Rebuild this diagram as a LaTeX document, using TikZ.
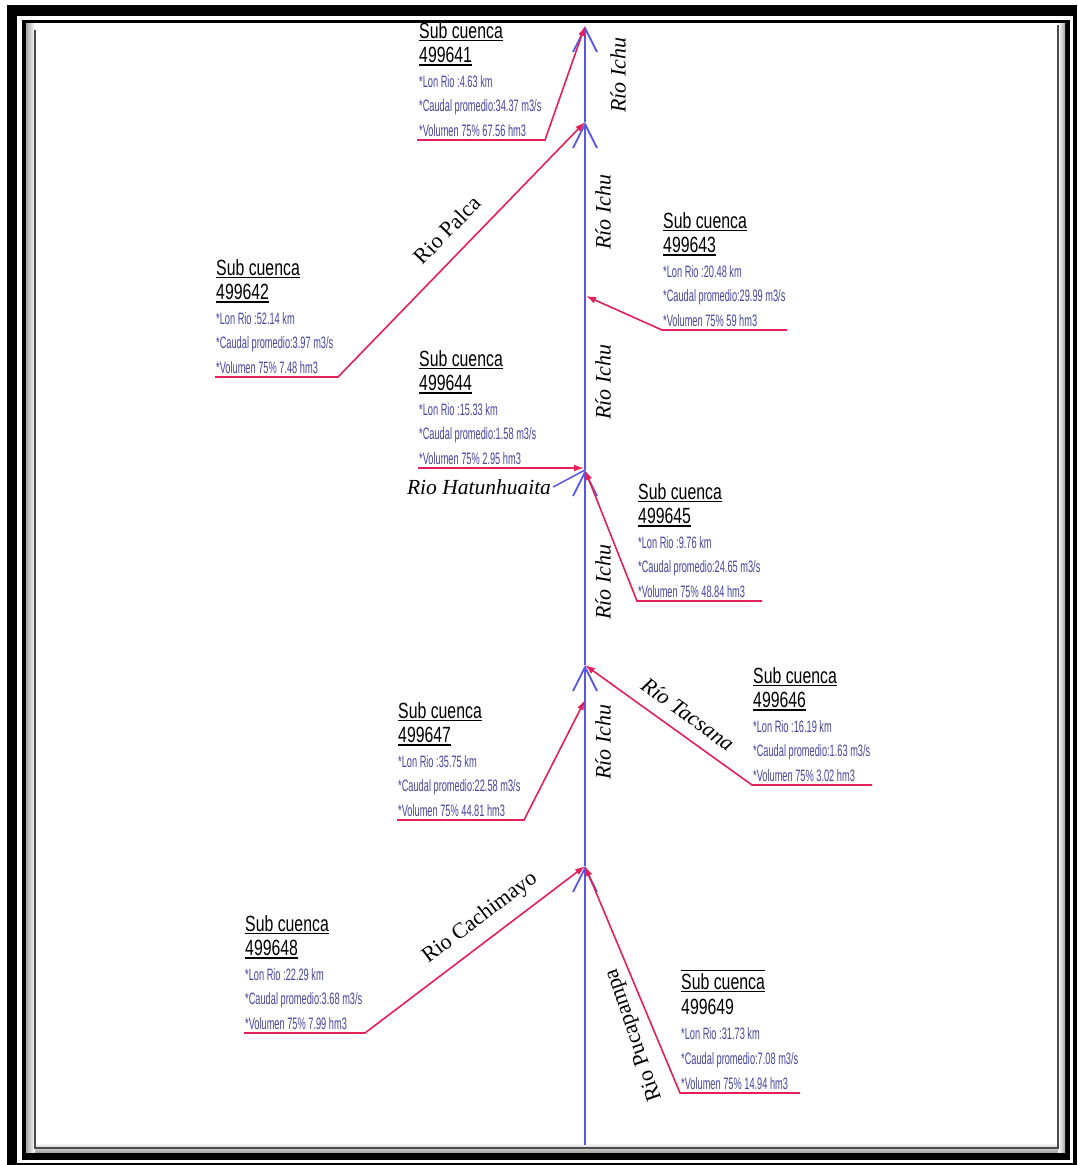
\documentclass[tikz,border=0pt]{standalone}
\usepackage{fontspec}
\usepackage{graphicx}
\setmainfont{Liberation Serif}
\newfontfamily\lsans{Liberation Sans}
\usetikzlibrary{arrows.meta}
\definecolor{rojo}{RGB}{228,32,88}
\definecolor{azul}{RGB}{88,88,228}
\definecolor{dato}{RGB}{70,70,160}
\newcommand\ulx[1]{\setbox0\hbox{#1}\rlap{\rule[-3pt]{\wd0}{1.6pt}}\box0}
\newcommand\olx[1]{\setbox0\hbox{#1}\rlap{\rule[-3pt]{\wd0}{1.2pt}}\rlap{\rule[18pt]{\wd0}{1.2pt}}\box0}
\newcommand\dline[1]{\hbox{\fontsize{16.5}{17}\lsans\color{dato}\scalebox{0.56}[1]{#1}}}
\newcommand\bline[1]{\hbox{\fontsize{22}{24}\lsans\scalebox{0.72}[1]{#1}}}
\newcommand\blk[4]{\vbox{\baselineskip=24.4pt\lineskiplimit=-100pt\lineskip=0pt
\bline{\ulx{Sub cuenca}}\bline{\ulx{#1}}%
\dline{*Lon Rio :#2 km}\dline{*Caudal promedio:#3 m3/s}\dline{*Volumen 75\% #4 hm3}}}
\newcommand\blkb[4]{\vbox{\baselineskip=25pt\lineskiplimit=-100pt\lineskip=0pt
\bline{\olx{Sub cuenca}}\bline{#1}%
\dline{*Lon Rio :#2 km}\dline{*Caudal promedio:#3 m3/s}\dline{*Volumen 75\% #4 hm3}}}
\tikzset{
 rio/.style={draw=rojo, line width=1.6pt, -{Latex[length=10pt,width=7pt]}},
 cauce/.style={draw=azul, line width=2pt, -{Straight Barb[length=24pt,width=24pt,line width=1.8pt]}},
 blkn/.style={inner sep=0pt, anchor=base west},
 ichu/.style={font=\fontsize{22}{24}\selectfont\itshape, rotate=90, inner sep=0pt},
 rname/.style={font=\fontsize{22}{24}\selectfont, inner sep=0pt},
 rnamei/.style={font=\fontsize{22}{24}\selectfont\itshape, inner sep=0pt},
}
\begin{document}
\begin{tikzpicture}[x=1pt,y=-1pt]
\useasboundingbox (0,0) rectangle (1077,1165);
% frame
\fill[black] (7,5) rectangle (1077,1165);
\fill[white] (17,16) rectangle (1073,1163);
\fill[black] (22,20) rectangle (1070,1160);
\fill[white] (26,23) rectangle (1065,1152);
\shade[left color=gray!70,right color=white] (26,23) rectangle (35,1152);
\shade[left color=white,right color=gray!70] (1058,23) rectangle (1065,1152);
\shade[top color=white,bottom color=gray!70] (35,1143) rectangle (1058,1152);
\draw[gray!60!black,line width=1.5pt] (35,30) -- (35,1148) -- (1058,1148) -- (1058,25);

% junctions on the main river
\coordinate (b0) at (585,1145);
\coordinate (b1) at (585,866);
\coordinate (b2) at (585,665);
\coordinate (b3) at (585,470);
\coordinate (b4) at (585,122);
\coordinate (b5) at (585,26);
\coordinate (j643) at (586,296);
\coordinate (j644) at (584,468);
\coordinate (j647) at (585,700);

% main river
\draw[cauce] (b0) -- (b1);
\draw[cauce] (b1) -- (b2);
\draw[cauce] (b2) -- (b3);
\draw[cauce] (b3) -- (b4);
\draw[cauce] (b4) -- (b5);

% labels
\node[blkn] (s641) at (419,136) {\blk{499641}{4.63}{34.37}{67.56}};
\node[blkn] (s642) at (216,373) {\blk{499642}{52.14}{3.97}{7.48}};
\node[blkn] (s643) at (663,326) {\blk{499643}{20.48}{29.99}{59}};
\node[blkn] (s644) at (419,464) {\blk{499644}{15.33}{1.58}{2.95}};
\node[blkn] (s645) at (638,597) {\blk{499645}{9.76}{24.65}{48.84}};
\node[blkn] (s646) at (753,781) {\blk{499646}{16.19}{1.63}{3.02}};
\node[blkn] (s647) at (398,816) {\blk{499647}{35.75}{22.58}{44.81}};
\node[blkn] (s648) at (245,1029) {\blk{499648}{22.29}{3.68}{7.99}};
\node[blkn] (s649) at (681,1089) {\blkb{499649}{31.73}{7.08}{14.94}};

% underline coordinates
\coordinate (u641a) at (417,140); \coordinate (u641b) at (545,140);
\coordinate (u642a) at (215,377); \coordinate (u642b) at (338,377);
\coordinate (u643a) at (787,330); \coordinate (u643b) at (662,330);
\coordinate (u644a) at (418,468);
\coordinate (u645a) at (762,601); \coordinate (u645b) at (637,601);
\coordinate (u646a) at (872,785); \coordinate (u646b) at (752,785);
\coordinate (u647a) at (397,820); \coordinate (u647b) at (524,820);
\coordinate (u648a) at (244,1033); \coordinate (u648b) at (365,1033);
\coordinate (u649a) at (800,1093); \coordinate (u649b) at (680,1093);

% tributaries
\draw[rio] (u641a) -- (u641b) -- (b5);
\draw[rio] (u642a) -- (u642b) -- (b4);
\draw[rio] (u643a) -- (u643b) -- (j643);
\draw[rio] (u644a) -- (j644);
\draw[rio] (u645a) -- (u645b) -- (b3);
\draw[rio] (u646a) -- (u646b) -- (b2);
\draw[rio] (u647a) -- (u647b) -- (j647);
\draw[rio] (u648a) -- (u648b) -- (b1);
\draw[rio] (u649a) -- (u649b) -- (b1);

% river names
\node[ichu] (i1) at (618,75) {Río Ichu};
\node[ichu] (i2) at (603,212) {Río Ichu};
\node[ichu] (i3) at (603,382) {Río Ichu};
\node[ichu] (i4) at (603,582) {Río Ichu};
\node[ichu] (i5) at (603,742) {Río Ichu};
\node[rnamei,font=\fontsize{21.5}{24}\selectfont\itshape] (hat) at (479,487) {Rio Hatunhuaita};
\draw[azul,line width=1.5pt] ([xshift=2pt]hat.east) -- (b3);
\node[rname,rotate=46] (palca) at (447,230) {Rio Palca};
\node[rnamei,rotate=-36] (tacs) at (688,714) {Río Tacsana};
\node[rname,rotate=37] (cach) at (480,918) {Rio Cachimayo};
\node[rname,rotate=109] (puca) at (634,1035) {Rio Pucapampa};
\end{tikzpicture}
\end{document}
